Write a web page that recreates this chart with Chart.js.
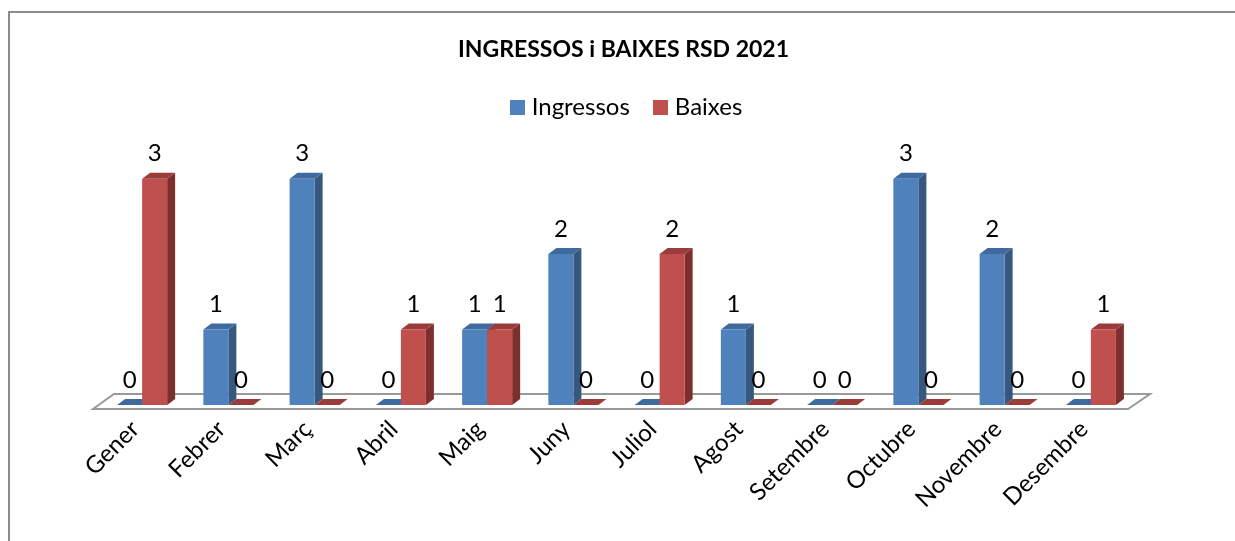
<!DOCTYPE html>
<html>
<head>
<meta charset="utf-8">
<title>Ingressos i Baixes RSD 2021</title>
<script src="https://cdn.jsdelivr.net/npm/chart.js@4"></script>
<style>
    html, body { margin: 0; padding: 0; background: #fff; overflow: hidden; }
    canvas { display: block; }
</style>
</head>
<body>
<canvas id="chartRsd" width="1235" height="541"></canvas>
<script>
const months = ['Gener', 'Febrer', 'Març', 'Abril', 'Maig', 'Juny', 'Juliol', 'Agost', 'Setembre', 'Octubre', 'Novembre', 'Desembre'];
const ingressos = [0, 1, 3, 0, 1, 2, 0, 1, 0, 3, 2, 0];
const baixes = [3, 0, 0, 1, 1, 0, 2, 0, 0, 0, 0, 1];

const FONT = 'Lato, "Open Sans", sans-serif';
const DX = 8, DY = 6;   // fake 3D depth
const BLUE = '#4f81bd', RED = '#c0504d';
const shades = [
    { side: '#36587f', top: '#3f6a9e' },
    { side: '#7d2f2d', top: '#9a3d3a' }
];

function poly(ctx, pts, fill) {
    ctx.beginPath();
    pts.forEach((p, i) => i ? ctx.lineTo(p[0], p[1]) : ctx.moveTo(p[0], p[1]));
    ctx.closePath();
    ctx.fillStyle = fill;
    ctx.fill();
}

// legend marker as a small canvas, so the text can sit closer than boxWidth + font/2
function marker(color) {
    const c = document.createElement('canvas');
    c.width = 15; c.height = 15;
    const g = c.getContext('2d');
    g.fillStyle = color;
    g.fillRect(0, 0, 15, 15);
    return c;
}

const frame3d = {
    id: 'frame3d',
    afterLayout(chart) {
        // title and legend sit a little right of the plot centre
        chart.titleBlock.left += 7; chart.titleBlock.right += 7;
        chart.legend.left += 12; chart.legend.right += 12;
    },
    beforeDraw(chart) {
        const ctx = chart.ctx;
        ctx.save();
        ctx.strokeStyle = '#8c8c8c';
        ctx.lineWidth = 2;
        ctx.beginPath();
        ctx.moveTo(9, 541); ctx.lineTo(9, 12); ctx.lineTo(1235, 12);
        ctx.stroke();
        ctx.restore();
    },
    beforeDatasetsDraw(chart) {
        const ctx = chart.ctx;
        ctx.save();
        // floor
        ctx.strokeStyle = '#999';
        ctx.lineWidth = 2;
        ctx.beginPath();
        ctx.moveTo(93, 409); ctx.lineTo(114, 394); ctx.lineTo(1150, 394); ctx.lineTo(1128, 409);
        ctx.closePath();
        ctx.stroke();
        // side and top faces
        chart.data.datasets.forEach((ds, d) => {
            chart.getDatasetMeta(d).data.forEach(bar => {
                const l = bar.x - bar.width / 2, r = bar.x + bar.width / 2;
                poly(ctx, [[r, bar.y], [r + DX, bar.y - DY], [r + DX, bar.base - DY], [r, bar.base]], shades[d].side);
                poly(ctx, [[l, bar.y], [l + DX, bar.y - DY], [r + DX, bar.y - DY], [r, bar.y]], shades[d].top);
            });
        });
        ctx.restore();
    },
    afterDatasetsDraw(chart) {
        const ctx = chart.ctx;
        ctx.save();
        ctx.fillStyle = '#000';
        ctx.font = '24px ' + FONT;
        ctx.textAlign = 'center';
        ctx.textBaseline = 'middle';
        chart.data.datasets.forEach((ds, d) => {
            chart.getDatasetMeta(d).data.forEach((bar, i) => {
                ctx.fillText(ds.data[i], bar.x, bar.y - 25);
            });
        });
        ctx.restore();
    }
};

new Chart(document.getElementById('chartRsd'), {
    type: 'bar',
    data: {
        labels: months,
        datasets: [
            { label: 'Ingressos', data: ingressos, backgroundColor: BLUE, pointStyle: marker(BLUE) },
            { label: 'Baixes', data: baixes, backgroundColor: RED, pointStyle: marker(RED) }
        ]
    },
    plugins: [frame3d],
    options: {
        responsive: false,
        animation: false,
        layout: { padding: { left: 99, right: 101, top: 0, bottom: 0 } },
        datasets: { bar: { categoryPercentage: 0.58, barPercentage: 1 } },
        plugins: {
            tooltip: { enabled: false },
            title: {
                display: true,
                text: 'INGRESSOS i BAIXES RSD 2021',
                color: '#000',
                font: { family: FONT, size: 23, weight: 'bold' },
                padding: { top: 36, bottom: 4 }
            },
            legend: {
                position: 'top',
                labels: {
                    color: '#000',
                    font: { family: FONT, size: 24 },
                    usePointStyle: true,
                    pointStyleWidth: 5,
                    padding: 28
                }
            }
        },
        scales: {
            x: {
                border: { display: false },
                grid: { display: false },
                afterFit(scale) { scale.height = 136; },
                ticks: {
                    color: '#000',
                    font: { family: FONT, size: 24 },
                    maxRotation: 45,
                    minRotation: 45,
                    autoSkip: false,
                    labelOffset: -7,
                    padding: 2
                }
            },
            y: { display: false, min: 0, max: 3.65 }
        }
    }
});
</script>
</body>
</html>
